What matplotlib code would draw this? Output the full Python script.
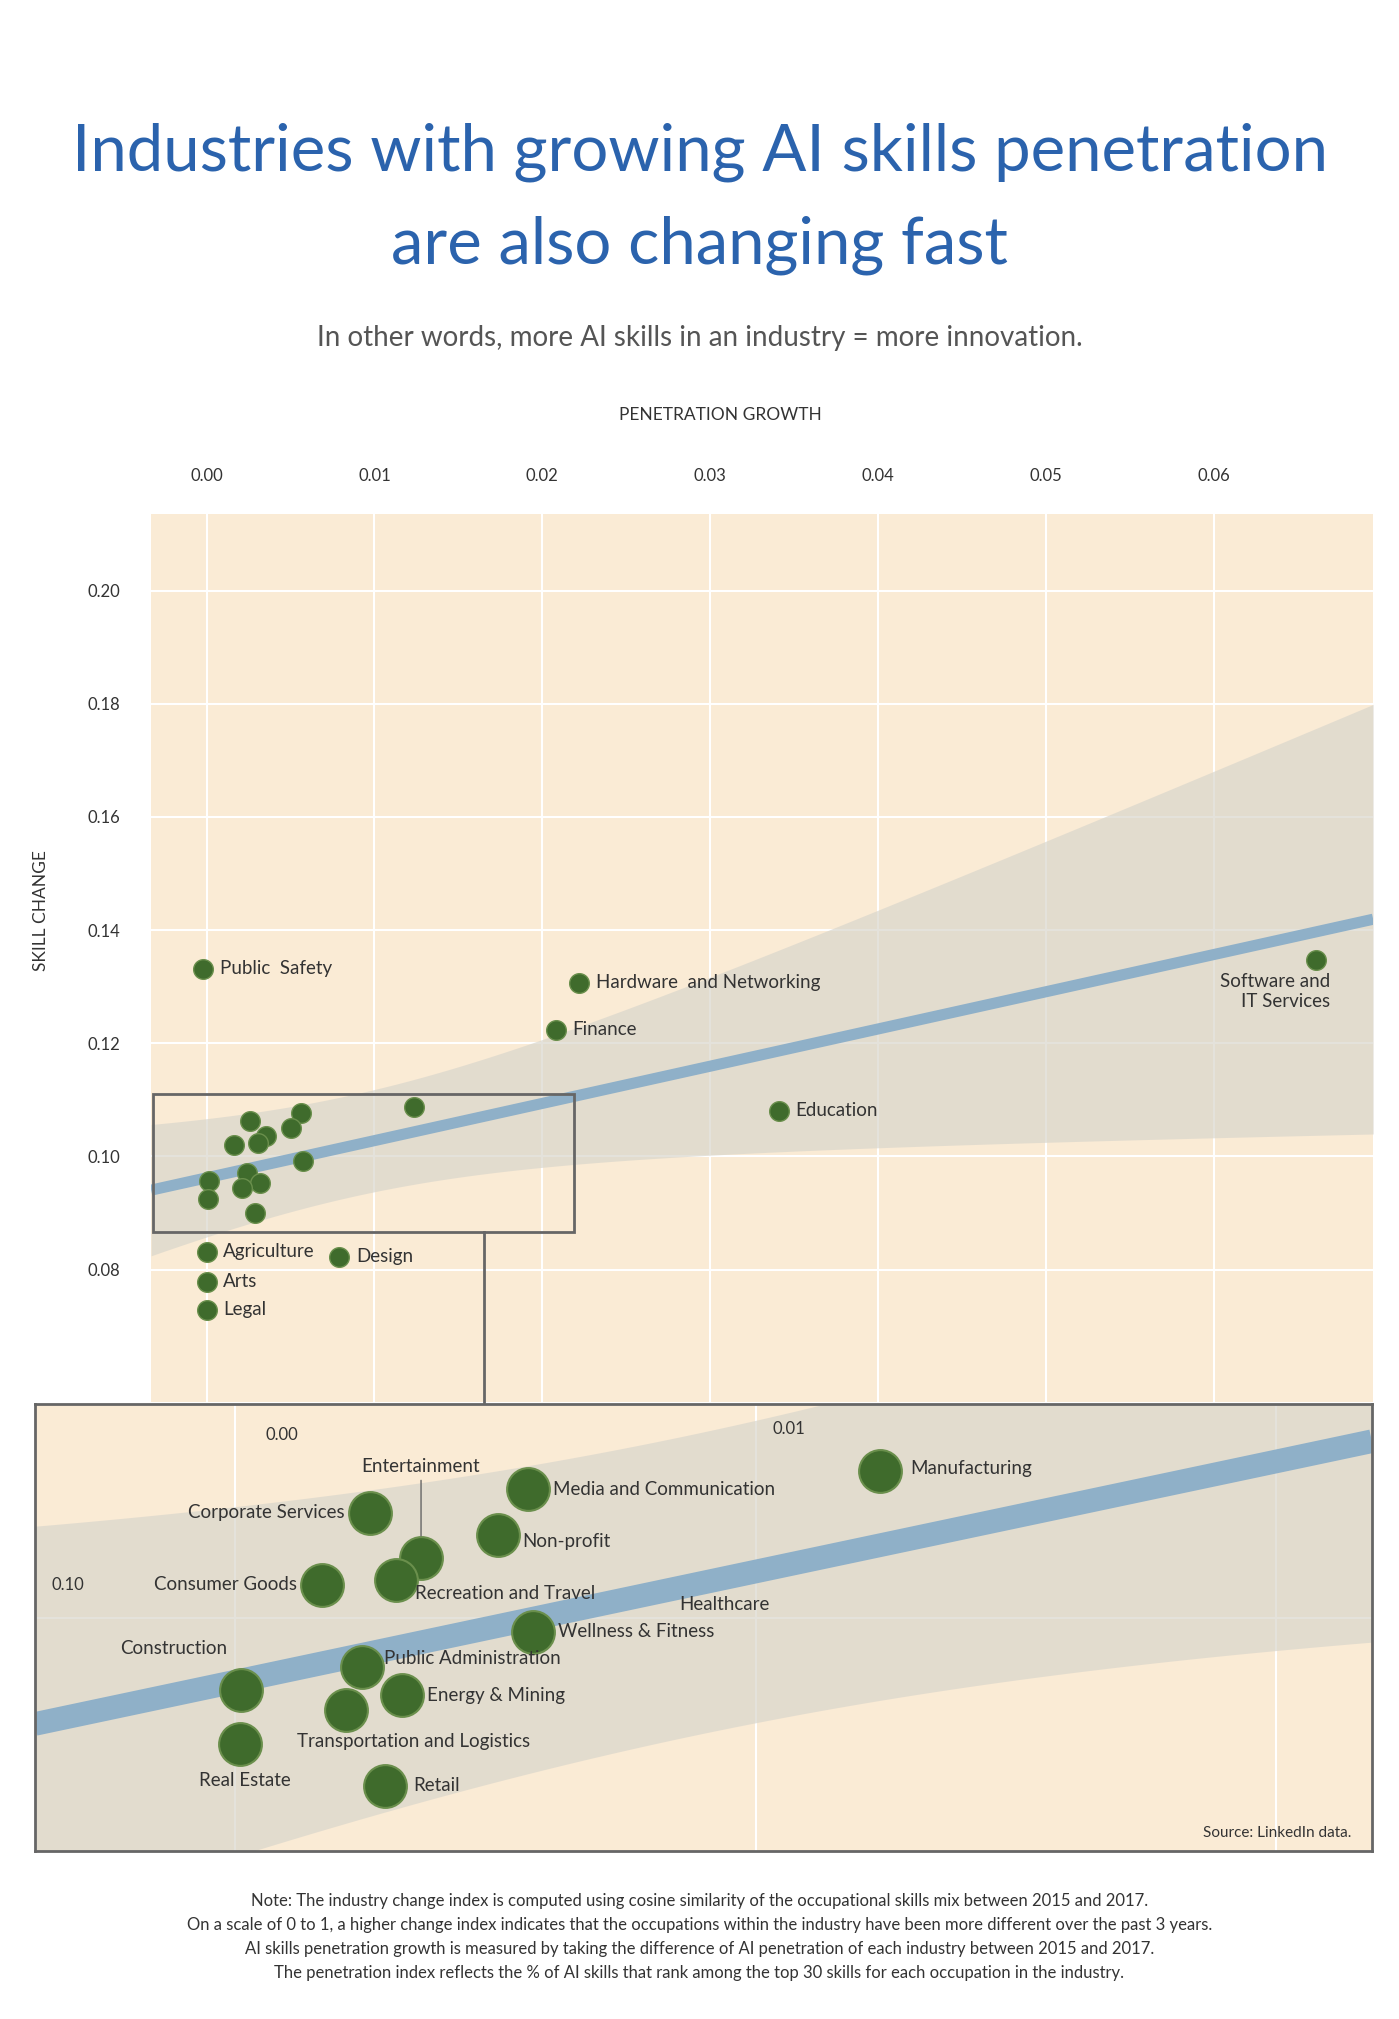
import matplotlib.pyplot as plt
import numpy as np

plt.rcParams['font.family'] = ['Lato', 'DejaVu Sans']

BG = '#faebd5'
DOT = '#3f6b2c'
BLUE = '#2b63ad'

# main scatter: labelled points
main_names = ['Public  Safety', 'Hardware  and Networking', 'Finance', 'Education',
              'Software and\nIT Services', 'Agriculture', 'Arts', 'Legal', 'Design']
main_x = [-0.0002, 0.0222, 0.0208, 0.0341, 0.0661, 0.0, 0.0, 0.0, 0.0079]
main_y = [0.1332, 0.1307, 0.1224, 0.1081, 0.1348, 0.0832, 0.0779, 0.0729, 0.0823]

# zoomed cluster
clu_names = ['Manufacturing', 'Media and Communication', 'Non-profit', 'Corporate Services',
             'Entertainment', 'Recreation and Travel', 'Consumer Goods', 'Wellness & Fitness',
             'Public Administration', 'Energy & Mining', 'Transportation and Logistics',
             'Construction', 'Real Estate', 'Retail']
clu_x = [0.01238, 0.00563, 0.00504, 0.00258, 0.00357, 0.00308, 0.00166, 0.00573,
         0.00243, 0.00320, 0.00213, 0.00012, 0.00010, 0.00288]
clu_y = [0.1088, 0.1077, 0.1050, 0.1063, 0.1036, 0.1023, 0.1020, 0.0992,
         0.0971, 0.0954, 0.0945, 0.0957, 0.0925, 0.0900]

xs = np.array(main_x + clu_x)
ys = np.array(main_y + clu_y)
n = len(xs)
b, a = np.polyfit(xs, ys, 1)
resid = ys - (a + b * xs)
s = np.sqrt(np.sum(resid ** 2) / (n - 2))
sxx = np.sum((xs - xs.mean()) ** 2)


def fit_band(x):
    yhat = a + b * x
    hw = 3.2 * s * np.sqrt(1 / n + (x - xs.mean()) ** 2 / sxx)
    return yhat, hw


fig = plt.figure(figsize=(13.99, 20.19), dpi=100)
W, H = 1083, 1563


def fx(p):
    return p / W


def fy(p):
    return 1 - p / H


fig.text(0.5, fy(118), 'Industries with growing AI skills penetration', ha='center', va='center',
         fontsize=47, color=BLUE)
fig.text(0.5, fy(190), 'are also changing fast', ha='center', va='center',
         fontsize=47, color=BLUE)
fig.text(0.5, fy(262), 'In other words, more AI skills in an industry = more innovation.',
         ha='center', va='center', fontsize=20, color='#555555')
fig.text(fx(558), fy(321), 'PENETRATION GROWTH', ha='center', va='center', fontsize=12.5,
         color='#333333')
fig.text(fx(32), fy(705), 'SKILL CHANGE', ha='center', va='center', fontsize=12.5,
         color='#333333', rotation=90)

# main axes
ax = fig.add_axes([fx(117), fy(1085), fx(1063) - fx(117), fy(398) - fy(1085)])
ax.set_facecolor(BG)
ax.set_xlim(-0.0033, 0.0695)
ax.set_ylim(0.0567, 0.2135)
ax.set_xticks([0, 0.01, 0.02, 0.03, 0.04, 0.05, 0.06])
ax.set_xticklabels(['0.00', '0.01', '0.02', '0.03', '0.04', '0.05', '0.06'])
ax.set_yticks([0.08, 0.10, 0.12, 0.14, 0.16, 0.18, 0.20])
ax.set_yticklabels(['0.08', '0.10', '0.12', '0.14', '0.16', '0.18', '0.20'])
ax.xaxis.tick_top()
ax.tick_params(length=0, labelsize=12, colors='#333333')
ax.tick_params(axis='x', pad=22)
ax.tick_params(axis='y', pad=22)
ax.grid(color='white', lw=1.5)
ax.set_axisbelow(True)
for sp in ax.spines.values():
    sp.set_visible(False)

xx = np.linspace(-0.0033, 0.0695, 200)
yh, hw = fit_band(xx)
ax.fill_between(xx, yh - hw, yh + hw, color='#d9d6cc', alpha=0.7, lw=0, zorder=1)
ax.plot(xx, yh, color='#8fb0c8', lw=8, zorder=2, solid_capstyle='butt')
ax.scatter(main_x + clu_x, main_y + clu_y, s=200, color=DOT, edgecolor='#6a8f4c', lw=1, zorder=3)

offs = {'Software and\nIT Services': (10, -10, 'right', 'top')}
for nm, x, y in zip(main_names, main_x, main_y):
    dx, dy, ha, va = offs.get(nm, (12, 0, 'left', 'center'))
    ax.annotate(nm, (x, y), xytext=(dx, dy), textcoords='offset points', ha=ha, va=va,
                fontsize=13.5, color='#333333', multialignment='right')

ax.add_patch(plt.Rectangle((-0.0032, 0.0866), 0.0251, 0.0244, fill=False,
                           edgecolor='#666666', lw=2, zorder=4))
ax.plot([0.0165, 0.0165], [0.0866, 0.0567], color='#666666', lw=2, clip_on=False, zorder=4)

# inset
ins = fig.add_axes([fx(27), fy(1433), fx(1062) - fx(27), fy(1087) - fy(1433)])
ins.set_facecolor(BG)
ins.set_xlim(-0.00385, 0.02184)
ins.set_ylim(0.0861, 0.1128)
ins.set_xticks([0, 0.01, 0.02])
ins.set_yticks([0.10])
ins.tick_params(length=0, labelbottom=False, labelleft=False)
ins.grid(color='white', lw=1.5)
ins.set_axisbelow(True)
for sp in ins.spines.values():
    sp.set_color('#666666')
    sp.set_linewidth(2)
xx = np.linspace(-0.00385, 0.02184, 200)
yh, hw = fit_band(xx)
ins.fill_between(xx, yh - hw, yh + hw, color='#d9d6cc', alpha=0.7, lw=0, zorder=1)
ins.plot(xx, yh, color='#8fb0c8', lw=17, zorder=2, solid_capstyle='butt')
ins.scatter(clu_x, clu_y, s=950, color=DOT, edgecolor='#6a8f4c', lw=1.5, zorder=3)

ins.annotate('0.00', (0.0, 0.1128), xytext=(22, -22), textcoords='offset points',
             fontsize=12, color='#333333', ha='left', va='center')
ins.annotate('0.01', (0.01, 0.1128), xytext=(12, -18), textcoords='offset points',
             fontsize=12, color='#333333', ha='left', va='center')
ins.annotate('0.10', (-0.00385, 0.10), xytext=(12, 24), textcoords='offset points',
             fontsize=12, color='#333333', ha='left', va='center')

ioffs = {
    'Manufacturing': (22, 2, 'left'),
    'Media and Communication': (18, 0, 'left'),
    'Non-profit': (18, -5, 'left'),
    'Corporate Services': (-18, 0, 'right'),
    'Recreation and Travel': (14, -10, 'left'),
    'Consumer Goods': (-18, 0, 'right'),
    'Wellness & Fitness': (18, 0, 'left'),
    'Public Administration': (16, 6, 'left'),
    'Energy & Mining': (18, 0, 'left'),
    'Transportation and Logistics': (-35, -22, 'left'),
    'Construction': (-10, 30, 'right'),
    'Real Estate': (-30, -26, 'left'),
    'Retail': (20, 0, 'left'),
}
for nm, x, y in zip(clu_names, clu_x, clu_y):
    if nm == 'Entertainment':
        ins.annotate(nm, (x, y), xytext=(0, 60), textcoords='offset points', ha='center',
                     va='bottom', fontsize=13.5, color='#333333',
                     arrowprops=dict(arrowstyle='-', color='#666666', lw=1, shrinkA=2, shrinkB=16))
        continue
    dx, dy, ha = ioffs[nm]
    ins.annotate(nm, (x, y), xytext=(dx, dy), textcoords='offset points', ha=ha, va='center',
                 fontsize=13.5, color='#333333')
ins.annotate('Healthcare', (0.00573, 0.0992), xytext=(105, 20), textcoords='offset points',
             ha='left', va='center', fontsize=13.5, color='#333333')
ins.text(0.985, 0.04, 'Source: LinkedIn data.', transform=ins.transAxes, ha='right',
         va='center', fontsize=11, color='#333333')

notes = ['Note: The industry change index is computed using cosine similarity of the occupational skills mix between 2015 and 2017.',
         'On a scale of 0 to 1, a higher change index indicates that the occupations within the industry have been more different over the past 3 years.',
         'AI skills penetration growth is measured by taking the difference of AI penetration of each industry between 2015 and 2017.',
         'The penetration index reflects the % of AI skills that rank among the top 30 skills for each occupation in the industry.']
for i, t in enumerate(notes):
    fig.text(0.5, fy(1472 + i * 18.5), t, ha='center', va='center', fontsize=12, color='#333333')

fig.savefig('out.png', facecolor='white')
